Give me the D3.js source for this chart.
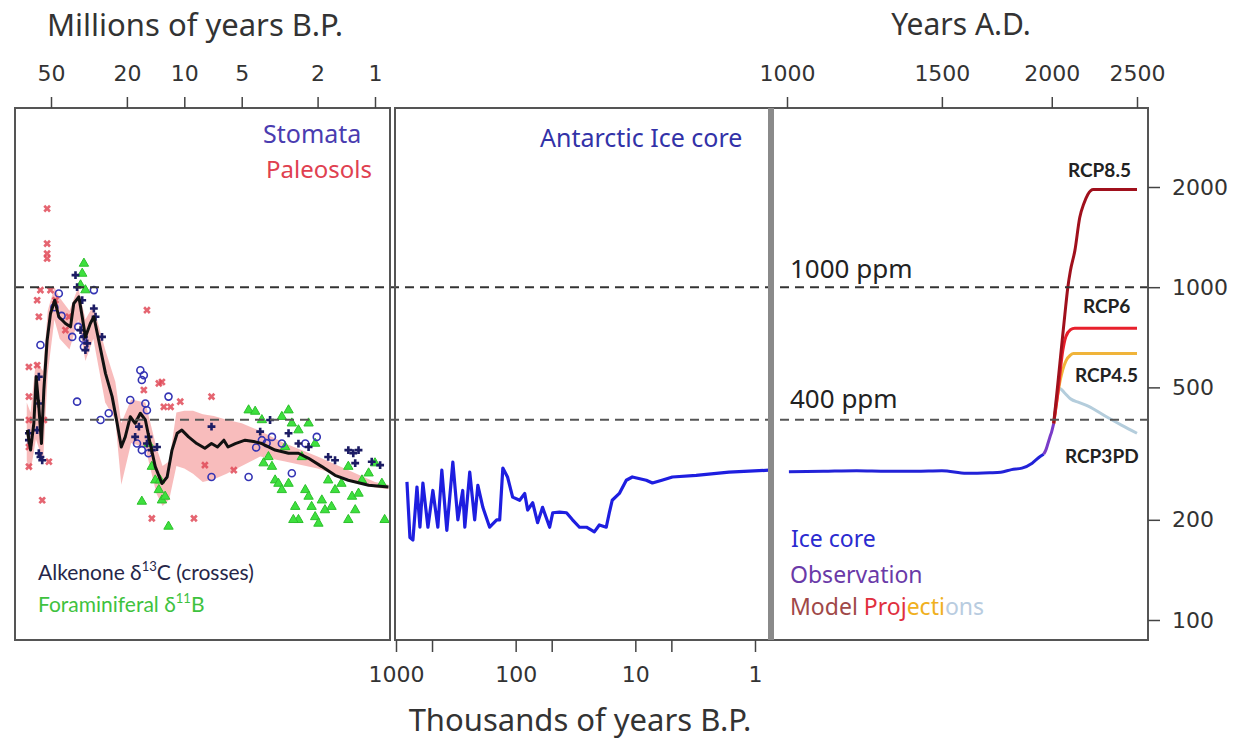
<!DOCTYPE html>
<html>
<head>
<meta charset="utf-8">
<script src="https://cdn.jsdelivr.net/npm/d3@7"></script>
<style>
  body { margin: 0; background: #fff; }
  svg { display: block; }
  .tick text { font-family: "DejaVu Sans", sans-serif; font-size: 22px; fill: #333; }
  .tick line { stroke: #444; stroke-width: 1.5; }
  .lbl { font-family: "Noto Sans", sans-serif; }
  .lato { font-family: Lato, sans-serif; }
</style>
</head>
<body>
<div id="chart"></div>
<script>
// ---- data ----
// left panel: millions of years B.P. vs ppm
var smoothCurve = [[66.6,372],[64.0,324],[61.5,390],[59.8,538],[57.9,437],[56.1,339],[54.5,491],[52.4,693],[50.3,834],[47.8,914],[45.5,815],[42.0,778],[39.5,760],[38.0,893],[35.7,935],[34.3,815],[33.0,709],[31.1,778],[29.8,815],[28.1,693],[25.9,551],[23.9,469],[22.5,390],[21.4,331],[20.4,355],[19.2,408],[18.1,390],[17.0,418],[16.0,399],[15.1,339],[14.2,289],[13.1,257],[12.3,269],[11.6,324],[10.9,364],[10.3,372],[9.5,355],[8.6,339],[7.8,328],[7.2,339],[6.7,331],[6.2,347],[5.9,331],[5.4,339],[4.8,347],[4.25,343],[3.92,339],[3.34,324],[2.84,317],[2.52,317],[2.23,306],[1.90,289],[1.62,272],[1.38,263],[1.08,254],[0.85,251]];
var bandAge = [67, 64, 60, 55, 52, 48, 45, 40, 36, 33, 30, 26, 23, 21.4, 19, 16, 14, 13, 12, 11, 10, 9, 8, 7, 6, 5, 4, 3, 2, 1, 0.85];
var bandLo  = [300, 280, 350, 300, 550, 800, 700, 650, 800, 600, 700, 450, 400, 255, 340, 330, 240, 220, 230, 290, 285, 275, 260, 265, 275, 290, 310, 300, 285, 250, 247];
var bandHi  = [450, 420, 600, 560, 850, 1000, 930, 850, 1000, 800, 880, 650, 520, 390, 460, 450, 330, 290, 300, 420, 425, 425, 415, 410, 400, 390, 370, 340, 310, 260, 255];

var stomata = [[56.8,670],[45.5,957],[38.7,709],[36.5,453],[33.6,662],[29.8,980],[27.5,399],[24.9,418],[19.2,458],[17.7,339],[17.0,563],[16.7,526],[16.3,544],[16.0,447],[15.4,317],[12.1,469],[7.2,269],[4.6,269],[3.92,347],[3.47,355],[3.08,339],[2.73,276],[2.32,339],[2.02,355],[16.7,324],[15.7,427],[48,870],[44,820],[36,760],[34,700],[4.2,330],[3.7,340]];
var paleosols = [[52.4,1722],[52.4,1352],[52.4,1262],[52.4,1219],[57.9,815],[59.1,583],[65.3,576],[65.3,469],[65.3,399],[65.3,331],[65.3,289],[55.6,229],[51.3,299],[54.5,399],[56.8,980],[59.1,914],[50.3,980],[47.4,914],[42.0,743],[40.3,815],[15.7,853],[16.3,491],[13.6,514],[12.8,437],[11.8,437],[10.5,453],[7.2,469],[7.8,292],[5.5,282],[8.9,202],[14.8,202],[13.1,519]];
var alkenone = [[37.2,1087],[36.5,1000],[34.3,914],[33.6,709],[33.0,647],[29.8,863],[29.2,815],[27.0,709],[35.0,743],[32.3,678],[57.9,538],[57.9,447],[59.1,372],[57.9,317],[56.8,309],[55.6,302],[65.3,364],[65.3,347],[18.1,355],[17.3,381],[15.7,339],[15.4,355],[14.8,324],[13.9,331],[7.2,381],[4.0,368],[3.55,399],[1.38,324],[1.30,317],[1.27,296],[1.22,324],[1.04,299],[0.94,292],[1.62,302],[1.76,309],[2.23,331],[2.52,339],[2.84,364]];
var foraminifera = [[33.6,1178],[34.3,1099],[35.0,1014],[33.0,980],[15.4,339],[14.8,289],[14.2,263],[13.6,246],[13.1,229],[12.6,235],[16.7,227],[12.1,191],[13.4,263],[4.6,427],[4.25,423],[3.92,399],[3.08,408],[2.84,427],[2.73,390],[2.52,372],[2.23,390],[3.62,309],[3.47,289],[3.34,263],[3.21,257],[3.08,246],[2.84,257],[2.62,219],[2.52,200],[2.32,246],[2.23,235],[2.15,219],[2.06,204],[1.98,195],[1.90,229],[1.83,214],[1.69,219],[1.62,246],[1.50,257],[1.38,289],[1.32,235],[1.27,214],[1.22,240],[1.17,263],[1.08,276],[1.0,296],[0.92,257],[0.89,200],[3.84,296],[2.96,331],[2.42,309],[2.06,339],[1.76,263],[1.38,200],[2.68,200]];

// middle panel: thousands of years B.P. vs ppm
var antarctic = [[810,260],[765,177],[722,174],[668,251],[631,190],[596,258],[541,190],[492,245],[447,190],[414,282],[376,186],[335,298],[304,200],[277,245],[266,190],[242,278],[220,200],[207,254],[188,218],[165,190],[144,200],[136,200],[128,286],[117,269],[106,234],[92.6,229],[84,240],[79.4,214],[72,225],[65.6,196],[59.6,218],[52,190],[49,210],[43,211],[37.6,210],[33.5,200],[29.3,190],[25.6,190],[22,184],[20,193],[17.5,190],[16.5,210],[15.6,229],[13.6,240],[11.9,263],[10.6,269],[8.1,263],[7.2,258],[6.0,263],[4.9,269],[3.1,272],[1.65,278],[0.76,282]];

// right panel: years A.D. vs ppm
var iceCoreAD = [[1005,279],[1100,280],[1200,281],[1300,280],[1400,280],[1500,281],[1600,276],[1700,277],[1750,278],[1800,283],[1850,286],[1900,296],[1940,310],[1958,315]];
var observation = [[1958,315],[1970,325],[1980,339],[1990,354],[2000,369],[2010,389]];
var rcp85 = [[2010,389],[2030,500],[2054,680],[2070,830],[2086,1000],[2100,1120],[2125,1290],[2152,1620],[2175,1780],[2198,1900],[2230,1965],[2500,1965]];
var rcp6 = [[2010,389],[2030,470],[2059,647],[2075,710],[2100,745],[2124,753],[2500,753]];
var rcp45 = [[2010,389],[2030,470],[2045,526],[2075,600],[2100,625],[2117,632],[2500,632]];
var rcp3pd = [[2010,389],[2025,460],[2040,497],[2070,480],[2100,462],[2150,450],[2200,439],[2300,410],[2400,385],[2500,364]];

var leftTicks = [50, 20, 10, 5, 2, 1];
var midTicks = [1000, 500, 100, 50, 10, 5, 1];
var midLabels = [1000, 100, 10, 1];
var rightTopTicks = [1000, 1500, 2000, 2500];
var ppmTicks = [100, 200, 500, 1000, 2000];
var refLines = [1000, 400];

// ---- layout ----
var svgWidth = 1245, svgHeight = 744;
var plotTop = 108, plotBottom = 640;
var panelL = { x0: 15, x1: 390 }, panelM = { x0: 395, x1: 770 }, panelR = { x0: 772, x1: 1148 };

var svg = d3.select("#chart").append("svg")
    .attr("width", svgWidth)
    .attr("height", svgHeight);

// scales
var y = d3.scaleLog().domain([100, 2000]).range([620, 187]);
var xL = d3.scaleLog().domain([50, 1]).range([51, 375]);
var xM = d3.scaleLog().domain([1000, 1]).range([396, 755]);
var xR = d3.scaleLog().domain([1000, 2500]).range([787, 1137]);

// clip paths
var defs = svg.append("defs");
[["clipL", panelL], ["clipM", panelM], ["clipR", panelR]].forEach(function (c) {
    defs.append("clipPath").attr("id", c[0]).append("rect")
        .attr("x", c[1].x0 + 1).attr("y", plotTop + 1)
        .attr("width", c[1].x1 - c[1].x0 - 2).attr("height", plotBottom - plotTop - 2);
});

// ---- left panel ----
var gL = svg.append("g").attr("clip-path", "url(#clipL)");

var band = bandAge.map(function (a, i) { return { a: a, lo: bandLo[i], hi: bandHi[i] }; });
gL.append("path")
    .datum(band)
    .attr("d", d3.area().x(d => xL(d.a)).y0(d => y(d.lo)).y1(d => y(d.hi)))
    .attr("fill", "#f27a7a")
    .attr("opacity", 0.5);

// foraminiferal: green triangles
gL.selectAll(".foram")
    .data(foraminifera)
    .enter().append("path")
    .attr("class", "foram")
    .attr("transform", d => "translate(" + xL(d[0]) + "," + y(d[1]) + ")")
    .attr("d", d3.symbol().type(d3.symbolTriangle).size(38))
    .attr("fill", "#3ee03e")
    .attr("stroke", "#2cc02c")
    .attr("stroke-width", 1);

// stomata: blue circles
gL.selectAll(".stom")
    .data(stomata)
    .enter().append("circle")
    .attr("class", "stom")
    .attr("cx", d => xL(d[0]))
    .attr("cy", d => y(d[1]))
    .attr("r", 3.5)
    .attr("fill", "none")
    .attr("stroke", "#3434b4")
    .attr("stroke-width", 1.6);

// paleosols: red x
gL.selectAll(".paleo")
    .data(paleosols)
    .enter().append("path")
    .attr("class", "paleo")
    .attr("transform", d => "translate(" + xL(d[0]) + "," + y(d[1]) + ") rotate(45)")
    .attr("d", d3.symbol().type(d3.symbolCross).size(36))
    .attr("fill", "#e04a58")
    .attr("opacity", 0.85);

// alkenone: navy crosses
gL.selectAll(".alk")
    .data(alkenone)
    .enter().append("path")
    .attr("class", "alk")
    .attr("transform", d => "translate(" + xL(d[0]) + "," + y(d[1]) + ")")
    .attr("d", d3.symbol().type(d3.symbolCross).size(34))
    .attr("fill", "#1c1c64");

gL.append("path")
    .datum(smoothCurve)
    .attr("d", d3.line().x(d => xL(d[0])).y(d => y(d[1])))
    .attr("fill", "none")
    .attr("stroke", "#111")
    .attr("stroke-width", 3)
    .attr("stroke-linejoin", "round");

// ---- middle panel ----
var gM = svg.append("g").attr("clip-path", "url(#clipM)");
gM.append("path")
    .datum(antarctic)
    .attr("d", d3.line().x(d => xM(d[0])).y(d => y(d[1])))
    .attr("fill", "none")
    .attr("stroke", "#1e1ee0")
    .attr("stroke-width", 3.2)
    .attr("stroke-linejoin", "round");

// ---- right panel ----
var gR = svg.append("g").attr("clip-path", "url(#clipR)");
var lineR = d3.line().x(d => xR(d[0])).y(d => y(d[1])).curve(d3.curveMonotoneX);
[[rcp3pd, "#b4cddc"], [rcp45, "#f0b43a"], [rcp6, "#e8202c"], [rcp85, "#a0101c"]].forEach(function (s) {
    gR.append("path").datum(s[0]).attr("d", lineR)
        .attr("fill", "none").attr("stroke", s[1]).attr("stroke-width", 3);
});
gR.append("path").datum(iceCoreAD).attr("d", lineR)
    .attr("fill", "none").attr("stroke", "#2222d8").attr("stroke-width", 3);
gR.append("path").datum(observation).attr("d", lineR)
    .attr("fill", "none").attr("stroke", "#7a3cc8").attr("stroke-width", 3);

// ---- reference lines ----
refLines.forEach(function (v, i) {
    svg.append("line")
        .attr("x1", panelL.x0).attr("x2", panelR.x1)
        .attr("y1", y(v)).attr("y2", y(v))
        .attr("stroke", i == 0 ? "#333" : "#555")
        .attr("stroke-width", 2)
        .attr("stroke-dasharray", "9,6");
});

// ---- frames ----
[panelL, panelM, panelR].forEach(function (p) {
    svg.append("rect")
        .attr("x", p.x0).attr("y", plotTop)
        .attr("width", p.x1 - p.x0).attr("height", plotBottom - plotTop)
        .attr("fill", "none").attr("stroke", "#555").attr("stroke-width", 2);
});
svg.append("line")
    .attr("x1", 771).attr("x2", 771).attr("y1", plotTop).attr("y2", plotBottom)
    .attr("stroke", "#8a8a8a").attr("stroke-width", 6);

// ---- axes ----
var axL = svg.append("g").attr("transform", "translate(0," + plotTop + ")")
    .call(d3.axisTop(xL).tickValues(leftTicks).tickFormat(d3.format("d")).tickSize(11).tickPadding(16));
var axR = svg.append("g").attr("transform", "translate(0," + plotTop + ")")
    .call(d3.axisTop(xR).tickValues(rightTopTicks).tickFormat(d3.format("d")).tickSize(11).tickPadding(16));
var axM = svg.append("g").attr("transform", "translate(0," + plotBottom + ")")
    .call(d3.axisBottom(xM).tickValues(midTicks)
        .tickFormat(d => midLabels.indexOf(d) >= 0 ? d : "").tickSize(12).tickPadding(14));
var axY = svg.append("g").attr("transform", "translate(" + panelR.x1 + ",0)")
    .call(d3.axisRight(y).tickValues(ppmTicks).tickFormat(d3.format("d")).tickSize(12).tickPadding(12));
[axL, axR, axM, axY].forEach(function (a) { a.select(".domain").remove(); });

// ---- titles ----
function label(x, yy, txt, size, color, anchor, weight, cls) {
    return svg.append("text").attr("class", cls || "lbl")
        .attr("x", x).attr("y", yy)
        .attr("text-anchor", anchor || "start")
        .attr("font-size", size)
        .attr("font-weight", weight || "normal")
        .attr("fill", color)
        .text(txt);
}
label(195, 36, "Millions of years B.P.", 31, "#333", "middle");
label(961, 35, "Years A.D.", 30, "#333", "middle");
label(580, 731, "Thousands of years B.P.", 31, "#333", "middle");

label(263, 143, "Stomata", 25, "#4a3cb0");
label(266, 178, "Paleosols", 24, "#e04050");
label(540, 147, "Antarctic Ice core", 25, "#3232a8");
label(790, 278, "1000 ppm", 26, "#222");
label(790, 408, "400 ppm", 26, "#222");

label(1068, 177, "RCP8.5", 19, "#222", "start", "bold", "lato");
label(1083, 313, "RCP6", 19, "#222", "start", "bold", "lato");
label(1075, 382, "RCP4.5", 19, "#222", "start", "bold", "lato");
label(1065, 463, "RCP3PD", 19, "#222", "start", "bold", "lato");

label(791, 547, "Ice core", 23, "#2a2ad0");
label(790, 583, "Observation", 23, "#6a3aa8");
var mp = label(790, 615, "", 23, "#a04848");
mp.append("tspan").attr("fill", "#a04848").text("Model ");
mp.append("tspan").attr("fill", "#e0303e").text("Proj");
mp.append("tspan").attr("fill", "#f0b020").text("ecti");
mp.append("tspan").attr("fill", "#b8cce0").text("ons");

var alkT = label(38, 580, "Alkenone δ", 21, "#262648", "start", "normal", "lato");
alkT.append("tspan").attr("font-size", 13).attr("dy", -9).text("13");
alkT.append("tspan").attr("dy", 9).text("C (crosses)");
var forT = label(38, 612, "Foraminiferal δ", 21, "#3ec23e", "start", "normal", "lato");
forT.append("tspan").attr("font-size", 13).attr("dy", -9).text("11");
forT.append("tspan").attr("dy", 9).text("B");
</script>
</body>
</html>
